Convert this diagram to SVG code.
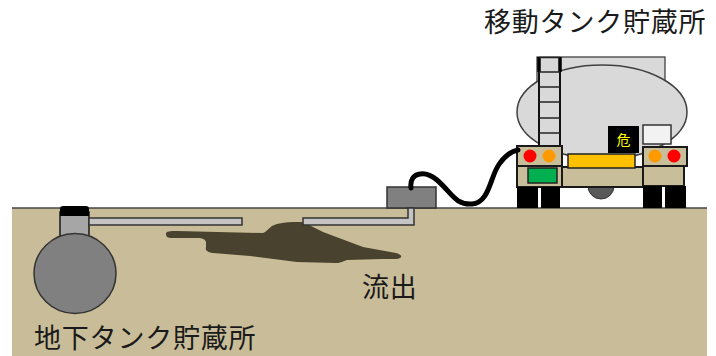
<svg xmlns="http://www.w3.org/2000/svg" width="716" height="356" viewBox="0 0 716 356">
  <defs>
    <filter id="soft" x="-5%" y="-20%" width="110%" height="140%">
      <feGaussianBlur stdDeviation="0.6"/>
    </filter>
  </defs>
  <style>
    .label { font-family: "Noto Sans CJK JP", "Noto Sans CJK SC", sans-serif; font-size: 27px; fill: #1a1a1a; letter-spacing: 0.8px; }
    .tan { fill: #c8bf9a; stroke: #1a1a1a; stroke-width: 2; }
    .pipe { fill: #c4c4c4; stroke: #333; stroke-width: 1.5; }
    .wheel { fill: #000; }
    .rail { stroke: #111; stroke-width: 2; }
    .rung { stroke: #222; stroke-width: 1.5; }
  </style>

  <!-- ground -->
  <g id="ground">
    <rect x="12" y="208" width="695" height="148" fill="#c8bd98"/>
    <line x1="12" y1="208" x2="707" y2="208" stroke="#444" stroke-width="1.5"/>
  </g>

  <!-- spilled oil -->
  <g id="spill">
    <path filter="url(#soft)" fill="#4a422d" d="M166,234 C166,231 170,231 177,231 L263,233 C266,232 268,229 272,226 C278,223 286,222 296,222 L303,222 L323,232 L363,247 L396,253 C403,255 403,258 396,259 L383,259 L347,260 C343,261 341,263 336,263 L297,262 L250,256 L213,253 C207,252 205,250 206,247 L206,242 C205,239 202,238 198,238 L172,238 C168,238 166,237 166,234 Z"/>
  </g>

  <!-- underground storage tank -->
  <g id="underground-tank">
    <rect x="60" y="212" width="29" height="26" fill="#a6a6a6" stroke="#1a1a1a" stroke-width="1.5"/>
    <path d="M60,216 V209 Q60,206 63,206 H86 Q89,206 89,209 V216 Z" fill="#000"/>
    <ellipse cx="75" cy="273.5" rx="41" ry="40" fill="#808080" stroke="#333" stroke-width="1.5"/>
  </g>

  <!-- fill box at the ground surface -->
  <g id="fill-box">
    <rect x="387" y="187" width="49" height="21" fill="#808080" stroke="#333" stroke-width="1.5"/>
  </g>

  <!-- tank truck -->
  <g id="tank-truck">
    <rect x="537" y="57" width="128" height="40" fill="#d9d9d9" stroke="#333" stroke-width="1.2"/>
    <ellipse cx="602" cy="112" rx="85" ry="47" fill="#d9d9d9" stroke="#404040" stroke-width="1.5"/>
    <!-- ladder -->
    <rect x="539" y="57" width="21" height="90" fill="#d9d9d9"/>
    <line class="rail" x1="539" y1="57" x2="539" y2="147"/>
    <line class="rail" x1="560" y1="57" x2="560" y2="147"/>
    <line x1="539" y1="57" x2="539" y2="72" stroke="#000" stroke-width="3.5"/>
    <line x1="560" y1="57" x2="560" y2="72" stroke="#000" stroke-width="3.5"/>
    <line class="rung" x1="539" y1="57.5" x2="560" y2="57.5"/>
    <line class="rung" x1="539" y1="72" x2="560" y2="72"/>
    <line class="rung" x1="539" y1="87" x2="560" y2="87"/>
    <line class="rung" x1="539" y1="102" x2="560" y2="102"/>
    <line class="rung" x1="539" y1="118" x2="560" y2="118"/>
    <line class="rung" x1="539" y1="133" x2="560" y2="133"/>
    <!-- rear body -->
    <circle cx="601" cy="186" r="13" fill="#595959" stroke="#333" stroke-width="1"/>
    <rect class="tan" x="562" y="167" width="81" height="20" stroke-width="1.5"/>
    <rect x="568" y="154" width="67" height="14" fill="#ffc000" stroke="#222" stroke-width="1.5"/>
    <rect x="608" y="126" width="31" height="27" fill="#000"/>
    <text x="623.5" y="145" text-anchor="middle" font-family="Noto Sans CJK JP, sans-serif" font-size="14" fill="#ffff00">危</text>
    <rect x="643" y="125" width="28" height="19" fill="#f2f2f2" stroke="#333" stroke-width="1.5"/>
    <!-- left lamp unit -->
    <rect class="tan" x="517" y="146" width="45" height="20"/>
    <circle cx="530" cy="156" r="6.5" fill="#ff0000"/>
    <circle cx="549" cy="156" r="6.5" fill="#ff9900"/>
    <rect class="tan" x="517" y="166" width="45" height="21"/>
    <rect x="528" y="168" width="29" height="15" fill="#00b050" stroke="#222" stroke-width="1.5"/>
    <rect class="wheel" x="517" y="187" width="21" height="21"/>
    <rect class="wheel" x="541" y="187" width="19" height="21"/>
    <!-- right lamp unit -->
    <rect class="tan" x="643" y="147" width="44" height="19"/>
    <circle cx="655" cy="156" r="6.5" fill="#ff9900"/>
    <circle cx="674" cy="156" r="6.5" fill="#ff0000"/>
    <rect class="tan" x="643" y="166" width="41" height="20"/>
    <rect class="wheel" x="643" y="186" width="19" height="22"/>
    <rect class="wheel" x="665" y="186" width="21" height="22"/>
  </g>

  <!-- connectors: buried pipes and delivery hose -->
  <g id="connectors">
    <rect class="pipe" x="89" y="218" width="153" height="7"/>
    <path class="pipe" d="M303,218 H408 V208 H414 V225 H303 Z"/>
    <path d="M411,188 C409,172 425,170 437,180 C452,193 455,205 472,204 C490,203 490,175 500,163 C506,155 512,151 518,150" fill="none" stroke="#000" stroke-width="5" stroke-linecap="round"/>
  </g>

  <!-- labels -->
  <g id="labels">
    <text class="label" x="484" y="32">移動タンク貯蔵所</text>
    <text class="label" x="362" y="297">流出</text>
    <text class="label" x="34" y="348">地下タンク貯蔵所</text>
  </g>
</svg>
